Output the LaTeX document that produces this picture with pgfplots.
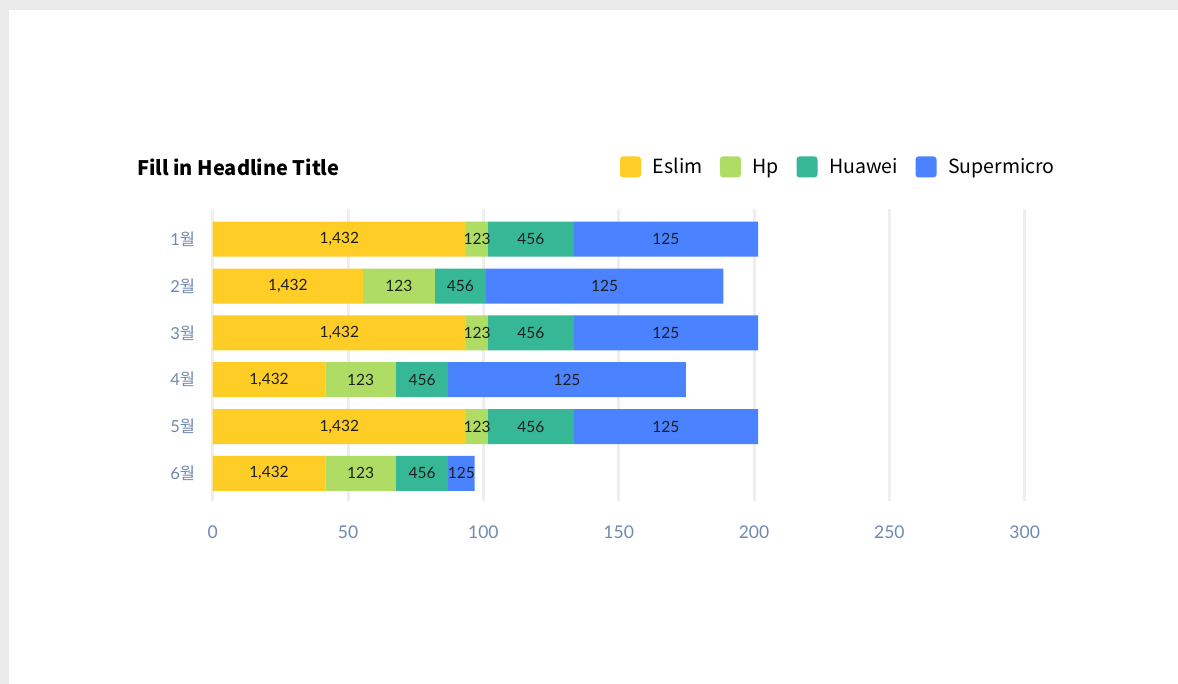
\documentclass[border=0pt]{standalone}
\usepackage{pgfplots}
\usepackage{pgfplotstable}
\pgfplotsset{compat=1.18}
\usepackage{fontspec}
\setmainfont{Lato}
\newfontfamily\kr{Noto Sans CJK KR}
\definecolor{cEslim}{HTML}{FFCE26}
\definecolor{cHp}{HTML}{AEDC64}
\definecolor{cHuawei}{HTML}{36B897}
\definecolor{cSuper}{HTML}{4A82FF}
\definecolor{tickc}{HTML}{6F8AAF}
\definecolor{gridc}{HTML}{EEEEEE}
\definecolor{framec}{HTML}{EBEBEB}
\newcommand{\mon}[1]{#1{\kr 월}}

\pgfplotstableread{
y v lab
1 93.6 1,432
2 55.5 1,432
3 93.6 1,432
4 41.6 1,432
5 93.6 1,432
6 41.6 1,432
}\eslim
\pgfplotstableread{
y v lab
1 8.1 123
2 26.6 123
3 8.1 123
4 26.1 123
5 8.1 123
6 26.1 123
}\hp
\pgfplotstableread{
y v lab
1 31.7 456
2 18.8 456
3 31.7 456
4 19.3 456
5 31.7 456
6 19.3 456
}\huawei
\pgfplotstableread{
y v lab
1 68.1 125
2 87.8 125
3 68.1 125
4 87.8 125
5 68.1 125
6 9.8 125
}\supermicro

\begin{document}
\begin{tikzpicture}
\fill[framec] (-212.7pt,-183pt) rectangle (965.3pt,501pt);
\fill[white] (-203.7pt,-183pt) rectangle (965.3pt,491pt);
\begin{axis}[
  at={(0,0)}, anchor=south west,
  scale only axis, width=812pt, height=292pt,
  xbar stacked, bar width=0.748,
  xmin=0, xmax=300, ymin=0.355, ymax=6.59,
  y dir=reverse,
  axis line style={draw=none},
  xtick={0,50,...,300},
  ytick={1,...,6},
  yticklabels={\mon{1},\mon{2},\mon{3},\mon{4},\mon{5},\mon{6}},
  major tick length=0pt,
  xmajorgrids,
  major grid style={color=gridc, line width=3pt},
  tick label style={color=tickc},
  xticklabel style={font=\fontsize{17.5}{20}\selectfont, yshift=-21pt},
  yticklabel style={font=\fontsize{16.5}{19}\selectfont, xshift=-14pt},
  /pgf/number format/assume math mode=true,
  point meta=explicit symbolic,
  nodes near coords,
  every node near coord/.append style={anchor=center, font=\fontsize{15.5}{18}\selectfont, color=black!88},
  legend columns=4,
  legend style={draw=none, fill=none, at={(axis description cs:1.041,1.144)}, anchor=east,
     font=\kr\fontsize{19.5}{23}\selectfont,
     /tikz/every odd column/.append style={column sep=11.8pt},
     /tikz/every even column/.append style={column sep=17.5pt},
     nodes={inner sep=0pt}},
  legend image code/.code={\fill[#1, rounded corners=3pt] (0pt,-10.5pt) rectangle (21pt,10.5pt);},
  clip=false,
]
\addplot[fill=cEslim, draw=none] table[x=v, y=y, meta=lab] {\eslim};
\addlegendentry{Eslim}
\addplot[fill=cHp, draw=none] table[x=v, y=y, meta=lab] {\hp};
\addlegendentry{Hp}
\addplot[fill=cHuawei, draw=none] table[x=v, y=y, meta=lab] {\huawei};
\addlegendentry{Huawei}
\addplot[fill=cSuper, draw=none] table[x=v, y=y, meta=lab] {\supermicro};
\addlegendentry{Supermicro}
\node[anchor=west, font=\kr\bfseries\fontsize{20}{24}\selectfont, inner sep=0pt] at (axis description cs:-0.0932,1.144) {Fill in Headline Title};
\end{axis}
\end{tikzpicture}
\end{document}
